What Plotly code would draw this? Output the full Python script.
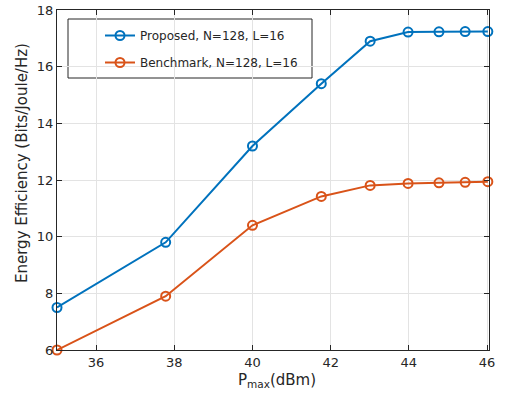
import plotly.graph_objects as go

p_max_dbm = [35, 37.78, 40, 41.76, 43.01, 43.98, 44.77, 45.44, 46.02]
proposed = [7.5, 9.8, 13.2, 15.4, 16.9, 17.22, 17.23, 17.24, 17.24]
benchmark = [6.0, 7.9, 10.4, 11.42, 11.81, 11.88, 11.9, 11.92, 11.94]
x_ticks = [36, 38, 40, 42, 44, 46]
y_ticks = [6, 8, 10, 12, 14, 16, 18]

W, H = 508, 394
L, R, T, B = 57, 19, 10, 44
PW, PH = W - L - R, H - T - B

def px(xp):
    return (xp - L) / PW

def py(yp):
    return (H - B - yp) / PH

fig = go.Figure()
fig.add_trace(go.Scatter(
    x=p_max_dbm, y=proposed, mode="lines+markers",
    name="Proposed, N=128, L=16", legendgroup="a",
    line=dict(color="#0072BD", width=2),
    marker=dict(symbol="circle-open", size=9, color="#0072BD", line=dict(width=2)),
    cliponaxis=False,
))
fig.add_trace(go.Scatter(
    x=p_max_dbm, y=benchmark, mode="lines+markers",
    name="Benchmark, N=128, L=16", legendgroup="b",
    line=dict(color="#D95319", width=2),
    marker=dict(symbol="circle-open", size=9, color="#D95319", line=dict(width=2)),
    cliponaxis=False,
))

axis_common = dict(
    showline=True, linecolor="#262626", linewidth=1, mirror="ticks",
    ticks="inside", ticklen=5, tickcolor="#262626",
    showgrid=True, gridcolor="#e3e3e3", gridwidth=1, zeroline=False,
    tickfont=dict(family="DejaVu Sans", size=13, color="#262626"),
    automargin=False,
)

fig.update_layout(
    width=W, height=H,
    margin=dict(l=L, r=R, t=T, b=B, autoexpand=False),
    paper_bgcolor="white", plot_bgcolor="white",
    font=dict(family="DejaVu Sans", size=13, color="#262626"),
    xaxis=dict(range=[35, 46.05], tickvals=x_ticks, **axis_common),
    yaxis=dict(range=[6, 18], tickvals=y_ticks, **axis_common),
    legend=dict(x=px(100), y=py(21), xanchor="left", yanchor="top",
                bgcolor="rgba(0,0,0,0)", borderwidth=0,
                font=dict(size=12, color="#262626"),
                traceorder="grouped", tracegroupgap=8),
    showlegend=True,
    shapes=[dict(type="rect", xref="paper", yref="paper",
                 x0=px(68), x1=px(312), y0=py(78), y1=py(19),
                 line=dict(color="#262626", width=1), fillcolor="white",
                 layer="below")],
    annotations=[
        dict(text="Energy Efficiency (Bits/Joule/Hz)", xref="paper", yref="paper",
             x=px(22), y=py(163), textangle=-90, showarrow=False,
             xanchor="center", yanchor="middle", font=dict(size=15)),
        dict(text="P<sub>max</sub>(dBm)", xref="paper", yref="paper",
             x=px(277), y=py(381), showarrow=False,
             xanchor="center", yanchor="middle", font=dict(size=15)),
    ],
)

fig.write_html("out.html", config={"displayModeBar": False},
               post_script="document.body.style.margin='0';")
